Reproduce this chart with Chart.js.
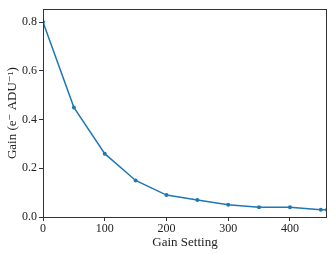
<!DOCTYPE html>
<html>
<head>
<meta charset="utf-8">
<script src="https://cdn.jsdelivr.net/npm/chart.js@4"></script>
<style>
html,body{margin:0;padding:0;background:#fff;}
#wrap{width:333px;height:254px;}
</style>
</head>
<body>
<div id="wrap"><canvas id="c" width="333" height="254"></canvas></div>
<script>
const gainSetting = [0, 50, 100, 150, 200, 250, 300, 350, 400, 450, 460];
const gainValues = [0.80, 0.45, 0.26, 0.15, 0.09, 0.07, 0.05, 0.04, 0.04, 0.03, 0.03];
const xTicks = [0, 100, 200, 300, 400];
const yTicks = [0.0, 0.2, 0.4, 0.6, 0.8];
const xLabel = 'Gain Setting';
const yLabel = 'Gain (e\u207B ADU\u207B\u00B9)';

const points = gainSetting.map((x, i) => ({x: x, y: gainValues[i]}));
const serif = "'Liberation Serif', 'DejaVu Serif', serif";

const frame = {
  id: 'frame',
  afterDatasetsDraw(chart) {
    const a = chart.chartArea, ctx = chart.ctx;
    ctx.save();
    ctx.strokeStyle = '#333';
    ctx.lineWidth = 1;
    ctx.strokeRect(Math.round(a.left) + 0.5, Math.round(a.top) + 0.5,
                   Math.round(a.right - a.left) - 1, Math.round(a.bottom - a.top));
    ctx.restore();
  }
};

new Chart(document.getElementById('c'), {
  type: 'line',
  data: {
    datasets: [{
      data: points,
      borderColor: '#1f77b4',
      backgroundColor: '#1f77b4',
      borderWidth: 1.5,
      pointRadius: 2,
      pointHoverRadius: 2,
      pointBorderWidth: 0,
      tension: 0,
      fill: false
    }]
  },
  options: {
    responsive: false,
    animation: false,
    devicePixelRatio: 1,
    layout: {padding: {left: 0, top: 5, right: 6, bottom: 0}},
    plugins: {legend: {display: false}, tooltip: {enabled: false}},
    scales: {
      x: {
        type: 'linear',
        min: 0, max: 460,
        afterBuildTicks: s => { s.ticks = xTicks.map(v => ({value: v})); },
        afterFit: s => { s.height = 37; },
        grid: {drawOnChartArea: false, drawTicks: true, tickLength: 4, color: '#333'},
        border: {display: false},
        ticks: {color: '#222', font: {family: serif, size: 12}, padding: 1, maxRotation: 0,
                callback: v => String(v)},
        title: {display: true, text: xLabel, color: '#222', font: {family: serif, size: 13},
                padding: {top: 0, bottom: 4}}
      },
      y: {
        type: 'linear',
        min: 0, max: 0.853,
        afterBuildTicks: s => { s.ticks = yTicks.map(v => ({value: v})); },
        afterFit: s => { s.width = 43; },
        grid: {drawOnChartArea: false, drawTicks: true, tickLength: 4, color: '#333'},
        border: {display: false},
        ticks: {color: '#222', font: {family: serif, size: 12}, padding: 2,
                callback: v => Number(v).toFixed(1)},
        title: {display: true, text: yLabel, color: '#222', font: {family: serif, size: 13},
                padding: {top: 5, bottom: 0}}
      }
    }
  },
  plugins: [frame]
});
</script>
</body>
</html>
